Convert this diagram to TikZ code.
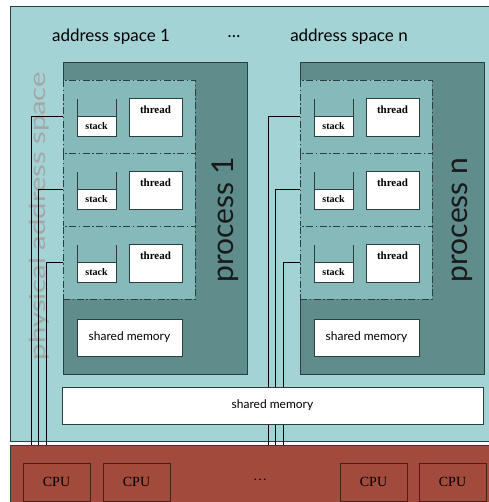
\documentclass[tikz,border=0pt]{standalone}
\usepackage{fontspec}
\setmainfont{Lato}
\newfontfamily\seriffont{Liberation Serif}
\usetikzlibrary{positioning}
\definecolor{spacebg}{HTML}{A3D3D5}
\definecolor{procbg}{HTML}{5E8D8C}
\definecolor{framebg}{HTML}{86BABA}
\definecolor{cpubg}{HTML}{A24A3C}
\definecolor{cpuline}{HTML}{4A1E18}
\definecolor{edge}{HTML}{2E3E3E}
\tikzset{
  area/.style={anchor=north west,inner sep=0pt,outer sep=0pt},
  procbox/.style={area,draw=edge,fill=procbg,minimum width=184,minimum height=312},
  threadframe/.style={area,draw=edge,fill=framebg,dash pattern=on 7pt off 2.5pt on 1.5pt off 2.5pt,
    minimum width=132,minimum height=73},
  whitebox/.style={area,draw=edge,fill=white},
  cpubox/.style={area,draw=cpuline,line width=0.9pt,fill=cpubg,minimum width=67,minimum height=38,
    font=\seriffont\fontsize{14}{16}\selectfont},
}
\begin{document}
\begin{tikzpicture}[x=1pt,y=-1pt,line width=0.7pt]
\useasboundingbox (0,0) rectangle (488,502);
% address spaces and cpus
\node[area,draw=edge,fill=spacebg,minimum width=485,minimum height=435] (space) at (10,6) {};
\node[area,draw=edge,fill=cpubg,minimum width=485,minimum height=60] (cpus) at (10,445) {};
\node[rotate=90,text=gray!70,font=\fontsize{22}{24}\selectfont] (physlabel) at (39,216)
  {\scalebox{1.33}[1]{physical address space}};
\node[font=\fontsize{17}{20}\selectfont] (as1) at (111,37) {address space 1};
\node[font=\fontsize{17}{20}\selectfont] (asdots) at (234,37) {\dots};
\node[font=\fontsize{17}{20}\selectfont] (asn) at (349,37) {address space n};
% processes
\foreach \p/\dx in {1/0,n/237}{
  \begin{scope}[xshift=\dx]
    \node[procbox] (proc\p) at (63,62) {};
    \foreach \i in {0,1,2}{
      \node[threadframe] (fr\p\i) at (63,80+73*\i) {};
      \coordinate (bus\p\i) at (31+7.5*\i,445);
      \draw (fr\p\i.west) -| (bus\p\i);
      % stack
      \node[whitebox,minimum width=39,minimum height=20] (stack\p\i) at (77,116+73*\i)
        {\seriffont\bfseries\fontsize{10}{12}\selectfont stack};
      \draw[edge] (stack\p\i.north west) -- ++(0,-17);
      \draw[edge] (stack\p\i.north east) -- ++(0,-17);
      \node[whitebox,minimum width=53,minimum height=38,
        font=\seriffont\bfseries\fontsize{11}{13}\selectfont,anchor=north west]
        (thread\p\i) at (129,98+73*\i) {};
      \node[below=4pt of thread\p\i.north,font=\seriffont\bfseries\fontsize{11}{13}\selectfont]
        (threadtxt\p\i) {thread};
    }
    \node[whitebox,minimum width=105,minimum height=37,font=\fontsize{12}{14}\selectfont]
      (shm\p) at (77,319) {shared memory};
    \node[rotate=90,text=black!90,font=\fontsize{30}{32}\selectfont] (plabel\p) at (225,220)
      {process \p};
  \end{scope}
}
% global shared memory
\node[whitebox,minimum width=421,minimum height=37,font=\fontsize{12}{14}\selectfont]
  (shm) at (62,387) {shared memory};
% cpus
\node[cpubox] (cpu1) at (23,463) {CPU};
\node[cpubox] (cpu2) at (103,463) {CPU};
\node[font=\seriffont\fontsize{14}{16}\selectfont] (cpudots) at (260,480) {\dots};
\node[cpubox] (cpu3) at (340,463) {CPU};
\node[cpubox] (cpu4) at (419,463) {CPU};
\end{tikzpicture}
\end{document}
